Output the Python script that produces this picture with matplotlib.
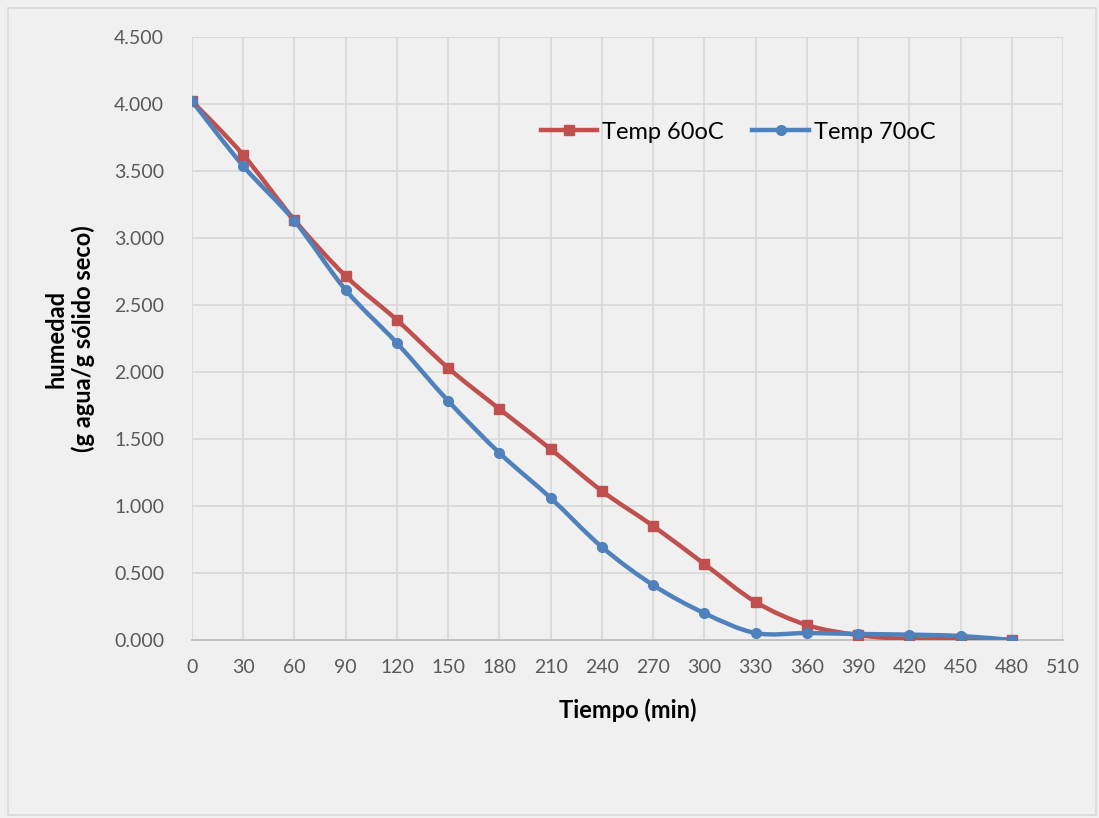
import numpy as np
import matplotlib.pyplot as plt
from matplotlib.path import Path
from matplotlib.patches import PathPatch, Rectangle
from matplotlib.ticker import FormatStrFormatter

# Secado: humedad vs tiempo a dos temperaturas
tiempo = [0, 30, 60, 90, 120, 150, 180, 210, 240, 270, 300, 330, 360, 390, 420, 450, 480]
hum_60 = [4.022, 3.620, 3.134, 2.716, 2.388, 2.030, 1.724, 1.425, 1.112, 0.851,
          0.567, 0.284, 0.112, 0.037, 0.007, 0.007, 0.000]
hum_70 = [4.022, 3.537, 3.127, 2.612, 2.216, 1.784, 1.396, 1.060, 0.694, 0.410,
          0.200, 0.052, 0.052, 0.045, 0.040, 0.030, 0.000]

rojo = "#c0504d"
azul = "#4f81bd"
fondo = "#f0f0f0"

plt.rcParams['font.family'] = ['Lato', 'DejaVu Sans']


def curva_suave(ax, x, y, color):
    # linea suavizada tipo Excel (Bezier cubica por tramos)
    p = np.column_stack([x, y]).astype(float)
    n = len(p)
    verts = [p[0]]
    codes = [Path.MOVETO]
    for i in range(n - 1):
        p0 = p[i - 1] if i > 0 else p[i]
        p3 = p[i + 2] if i + 2 < n else p[i + 1]
        c1 = p[i] + (p[i + 1] - p0) / 6
        c2 = p[i + 1] - (p3 - p[i]) / 6
        verts += [c1, c2, p[i + 1]]
        codes += [Path.CURVE4] * 3
    ax.add_patch(PathPatch(Path(verts, codes), fill=False, edgecolor=color,
                           lw=3.2, capstyle='round', joinstyle='round', zorder=3))


fig = plt.figure(figsize=(10.99, 8.18), dpi=100)
fig.patch.set_facecolor(fondo)
fig.patches.append(Rectangle((8 / 1099, 3 / 818), 1088 / 1099, 807 / 818,
                             transform=fig.transFigure, fill=False,
                             edgecolor="#d9d9d9", lw=1.2))

ax = fig.add_axes([192 / 1099, 178 / 818, 871 / 1099, 603 / 818])
ax.set_facecolor(fondo)

curva_suave(ax, tiempo, hum_60, rojo)
curva_suave(ax, tiempo, hum_70, azul)
ax.plot(tiempo, hum_60, ls='none', marker='s', ms=7, color=rojo, zorder=4)
ax.plot(tiempo, hum_70, ls='none', marker='o', ms=7, color=azul, zorder=4)

# entradas de la leyenda
ax.plot([], [], color=rojo, lw=3.2, marker='s', ms=7, label="Temp 60oC")
ax.plot([], [], color=azul, lw=3.2, marker='o', ms=7, label="Temp 70oC")
ax.legend(loc='upper left', bbox_to_anchor=(0.376, 0.895), ncol=2, frameon=False,
          fontsize=17, handlelength=2.4, columnspacing=1.2, handletextpad=0.2)

ax.set_xlim(0, 510)
ax.set_ylim(0, 4.5)
ax.set_xticks(np.arange(0, 511, 30))
ax.set_yticks(np.arange(0, 4.51, 0.5))
ax.yaxis.set_major_formatter(FormatStrFormatter('%.3f'))
ax.tick_params(axis='both', length=0, labelsize=14, colors="#595959")
ax.tick_params(axis='x', pad=14)
ax.tick_params(axis='y', pad=20)
ax.grid(True, color="#d9d9d9", lw=1.3)
ax.set_axisbelow(True)
for s in ['top', 'right', 'left']:
    ax.spines[s].set_visible(False)
ax.spines['bottom'].set_color("#bfbfbf")
ax.spines['bottom'].set_linewidth(1.3)

ax.set_xlabel("Tiempo (min)", fontsize=17, fontweight='bold', labelpad=16)
ax.set_ylabel("humedad\n(g agua/g sólido seco)", fontsize=17, fontweight='bold',
              labelpad=14)

fig.savefig("out.png", dpi=100, facecolor=fondo)
